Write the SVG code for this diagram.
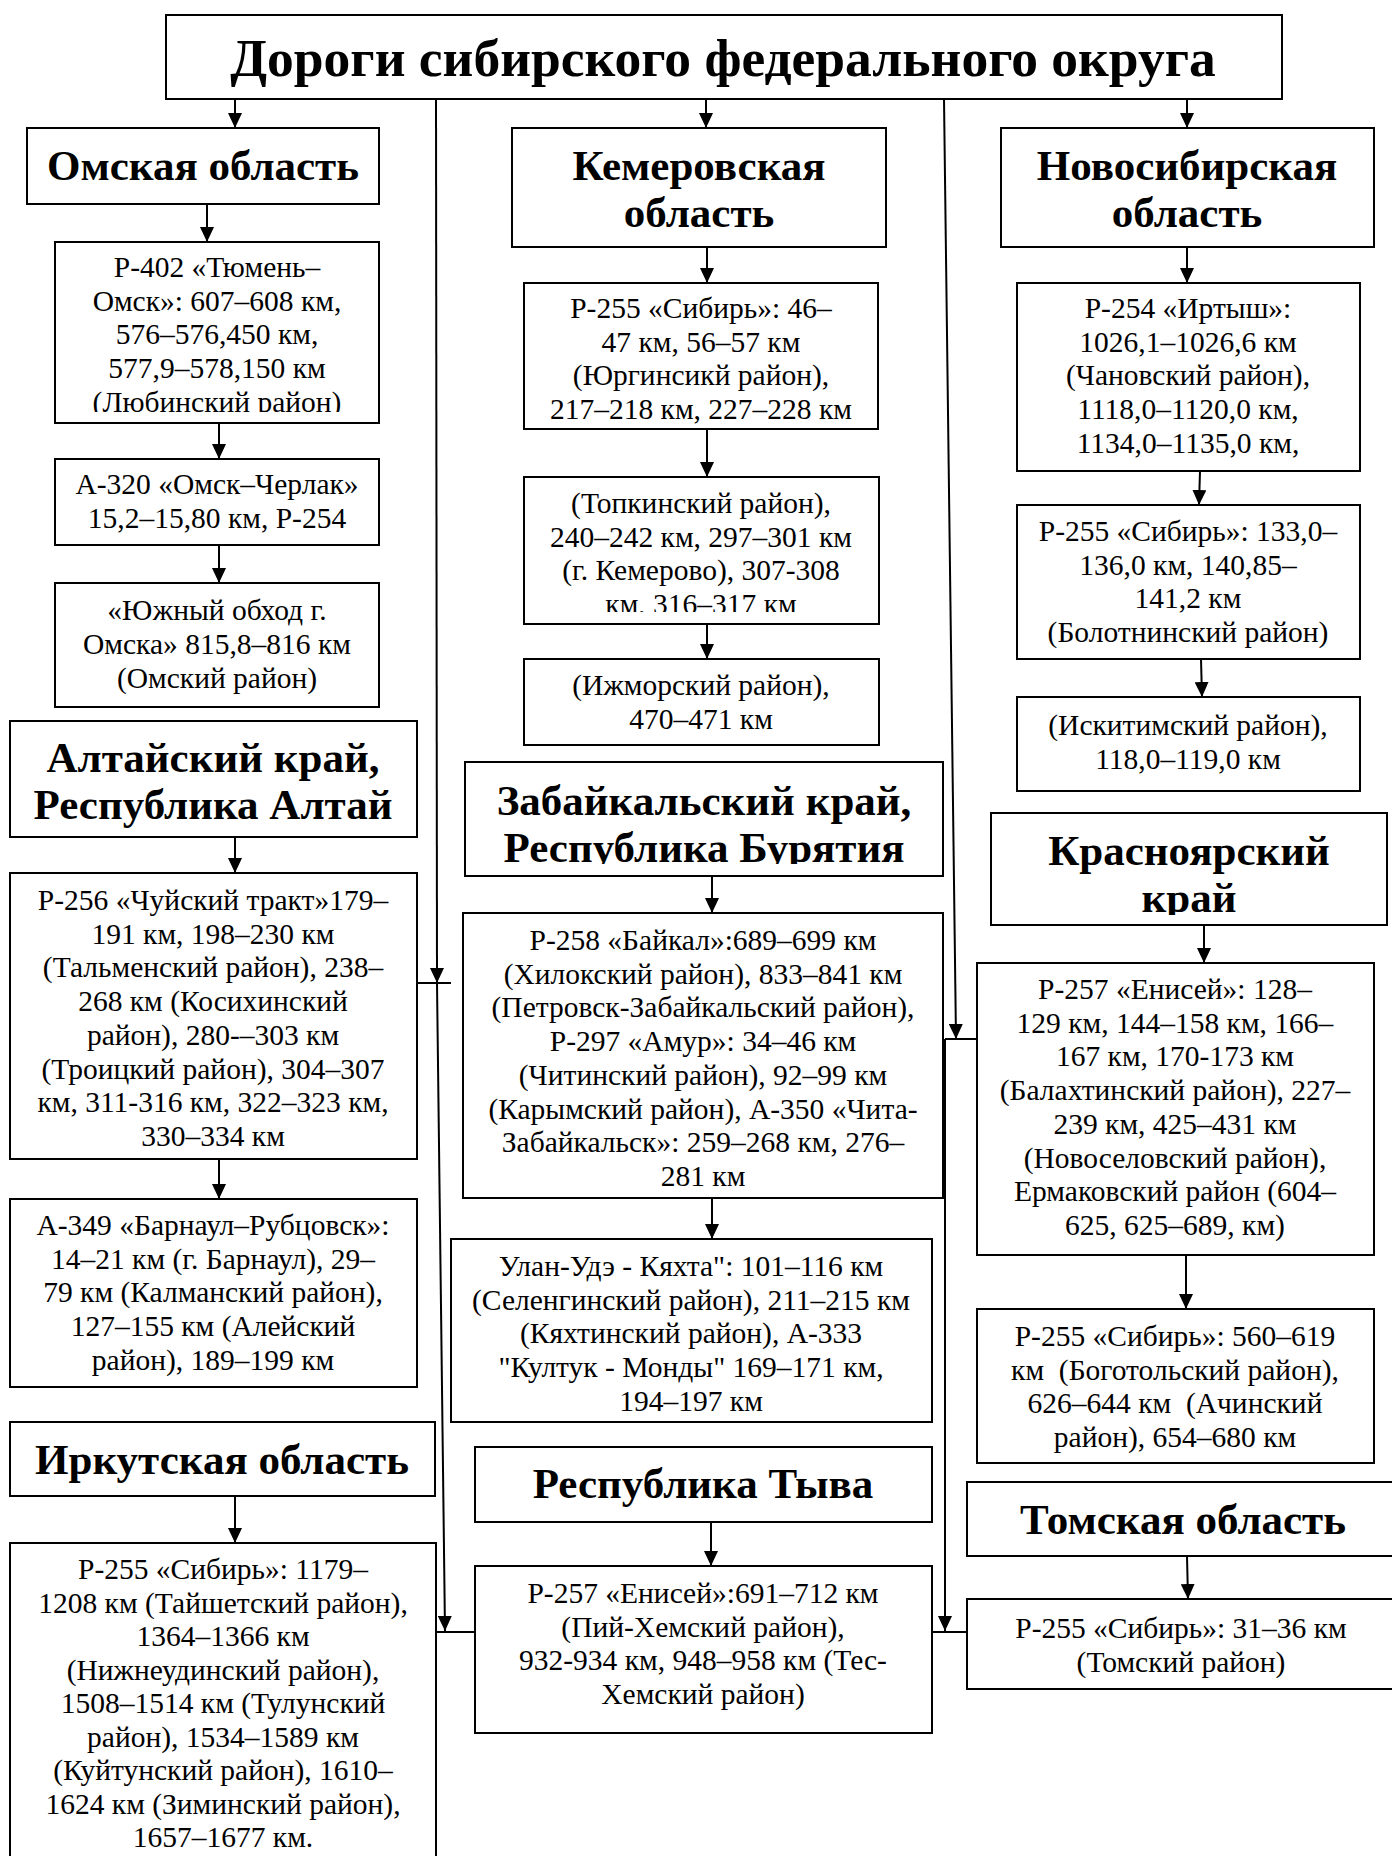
<svg xmlns="http://www.w3.org/2000/svg" width="1392" height="1856" viewBox="0 0 1392 1856">
<style>
  .bx { fill: #fff; stroke: #000; stroke-width: 2; }
  .t { font-family: "Liberation Serif", "Times New Roman", serif; font-size: 29.5px; text-anchor: middle; fill: #000; white-space: pre; }
  .h { font-family: "Liberation Serif", "Times New Roman", serif; font-size: 43px; font-weight: bold; text-anchor: middle; fill: #000; }
  .ttl { font-family: "Liberation Serif", "Times New Roman", serif; font-size: 53.5px; font-weight: bold; text-anchor: middle; fill: #000; }
  .c { stroke: #000; stroke-width: 2; fill: none; }
  .ca { stroke: #000; stroke-width: 2; fill: none; marker-end: url(#arr); }
</style>
<defs>
  <marker id="arr" markerUnits="userSpaceOnUse" viewBox="0 0 15 14" refX="15" refY="7" markerWidth="15" markerHeight="14" orient="auto">
    <path d="M0,0 L15,7 L0,14 z" fill="#000"/>
  </marker>
  <clipPath id="clipOmsk1"><rect x="55" y="242" width="324" height="170"/></clipPath>
  <clipPath id="clipKem2"><rect x="524" y="477" width="355" height="135"/></clipPath>
  <clipPath id="clipZabH"><rect x="465" y="762" width="478" height="102"/></clipPath>
  <clipPath id="clipKrasH"><rect x="991" y="813" width="396" height="102"/></clipPath>
  <clipPath id="clipIrk1"><rect x="10" y="1543" width="426" height="308"/></clipPath>
</defs>
<rect width="1392" height="1856" fill="#fff"/>

<g id="connectors">
  <line class="ca" x1="235" y1="99" x2="235" y2="128"/>
  <line class="ca" x1="706" y1="99" x2="706" y2="128"/>
  <line class="ca" x1="1187" y1="99" x2="1187" y2="128"/>
  <line class="ca" x1="207" y1="204" x2="207" y2="242"/>
  <line class="ca" x1="219" y1="423" x2="219" y2="459"/>
  <line class="ca" x1="219" y1="545" x2="219" y2="583"/>
  <line class="ca" x1="235" y1="837" x2="235" y2="873"/>
  <line class="ca" x1="219" y1="1159" x2="219" y2="1199"/>
  <line class="ca" x1="235" y1="1496" x2="235" y2="1543"/>
  <line class="ca" x1="707" y1="247" x2="707" y2="283"/>
  <line class="ca" x1="707" y1="429" x2="707" y2="477"/>
  <line class="ca" x1="707" y1="624" x2="707" y2="659"/>
  <line class="ca" x1="712" y1="876" x2="712" y2="913"/>
  <line class="ca" x1="712" y1="1198" x2="712" y2="1239"/>
  <line class="ca" x1="711" y1="1522" x2="711" y2="1566"/>
  <line class="ca" x1="1187" y1="247" x2="1187" y2="283"/>
  <line class="ca" x1="1200" y1="471" x2="1199" y2="505"/>
  <line class="ca" x1="1201" y1="659" x2="1202" y2="697"/>
  <line class="ca" x1="1204" y1="925" x2="1204" y2="963"/>
  <line class="ca" x1="1186" y1="1255" x2="1186" y2="1309"/>
  <line class="ca" x1="1187" y1="1556" x2="1188" y2="1599"/>
  <line class="ca" x1="436" y1="99" x2="437" y2="983"/>
  <line class="ca" x1="437" y1="983" x2="445" y2="1631"/>
  <line class="c" x1="417" y1="983" x2="451" y2="983"/>
  <line class="c" x1="435" y1="1632" x2="475" y2="1632"/>
  <line class="ca" x1="944" y1="99" x2="956" y2="1039"/>
  <line class="ca" x1="945" y1="1039" x2="945" y2="1631"/>
  <line class="c" x1="945" y1="1039" x2="977" y2="1039"/>
  <line class="c" x1="932" y1="1632" x2="967" y2="1632"/>
</g>

<g id="title">
  <rect class="bx" x="166" y="15" width="1116" height="84"/>
  <text class="ttl" x="723" y="76">Дороги сибирского федерального округа</text>
</g>

<g id="omsk-h">
  <rect class="bx" x="27" y="128" width="352" height="76"/>
  <text class="h" x="203" y="180">Омская область</text>
</g>
<g id="omsk-1">
  <rect class="bx" x="55" y="242" width="324" height="181"/>
  <g clip-path="url(#clipOmsk1)">
    <text class="t" x="217" y="277">Р-402 «Тюмень–</text>
    <text class="t" x="217" y="310.7">Омск»: 607–608 км,</text>
    <text class="t" x="217" y="344.4">576–576,450 км,</text>
    <text class="t" x="217" y="378.1">577,9–578,150 км</text>
    <text class="t" x="217" y="411.8">(Любинский район)</text>
  </g>
</g>
<g id="omsk-2">
  <rect class="bx" x="55" y="459" width="324" height="86"/>
  <text class="t" x="217" y="494">А-320 «Омск–Черлак»</text>
  <text class="t" x="217" y="528">15,2–15,80 км, Р-254</text>
</g>
<g id="omsk-3">
  <rect class="bx" x="55" y="583" width="324" height="124"/>
  <text class="t" x="217" y="620">«Южный обход г.</text>
  <text class="t" x="217" y="654">Омска» 815,8–816 км</text>
  <text class="t" x="217" y="688">(Омский район)</text>
</g>
<g id="altai-h">
  <rect class="bx" x="10" y="721" width="407" height="116"/>
  <text class="h" x="213" y="772">Алтайский край,</text>
  <text class="h" x="213" y="819">Республика Алтай</text>
</g>
<g id="altai-1">
  <rect class="bx" x="10" y="873" width="407" height="286"/>
  <text class="t" x="213" y="910">Р-256 «Чуйский тракт»179–</text>
  <text class="t" x="213" y="943.7">191 км, 198–230 км</text>
  <text class="t" x="213" y="977.4">(Тальменский район), 238–</text>
  <text class="t" x="213" y="1011.1">268 км (Косихинский</text>
  <text class="t" x="213" y="1044.8">район), 280-–303 км</text>
  <text class="t" x="213" y="1078.5">(Троицкий район), 304–307</text>
  <text class="t" x="213" y="1112.2">км, 311-316 км, 322–323 км,</text>
  <text class="t" x="213" y="1145.9">330–334 км</text>
</g>
<g id="altai-2">
  <rect class="bx" x="10" y="1199" width="407" height="188"/>
  <text class="t" x="213" y="1235">А-349 «Барнаул–Рубцовск»:</text>
  <text class="t" x="213" y="1268.7">14–21 км (г. Барнаул), 29–</text>
  <text class="t" x="213" y="1302.4">79 км (Калманский район),</text>
  <text class="t" x="213" y="1336.1">127–155 км (Алейский</text>
  <text class="t" x="213" y="1369.8">район), 189–199 км</text>
</g>
<g id="irk-h">
  <rect class="bx" x="10" y="1422" width="425" height="74"/>
  <text class="h" x="222" y="1474">Иркутская область</text>
</g>
<g id="irk-1">
  <rect class="bx" x="10" y="1543" width="426" height="320"/>
  <g clip-path="url(#clipIrk1)">
    <text class="t" x="223" y="1579">Р-255 «Сибирь»: 1179–</text>
    <text class="t" x="223" y="1612.5">1208 км (Тайшетский район),</text>
    <text class="t" x="223" y="1646">1364–1366 км</text>
    <text class="t" x="223" y="1679.5">(Нижнеудинский район),</text>
    <text class="t" x="223" y="1713">1508–1514 км (Тулунский</text>
    <text class="t" x="223" y="1746.5">район), 1534–1589 км</text>
    <text class="t" x="223" y="1780">(Куйтунский район), 1610–</text>
    <text class="t" x="223" y="1813.5">1624 км (Зиминский район),</text>
    <text class="t" x="223" y="1847">1657–1677 км.</text>
  </g>
</g>

<g id="kem-h">
  <rect class="bx" x="512" y="128" width="374" height="119"/>
  <text class="h" x="699" y="180">Кемеровская</text>
  <text class="h" x="699" y="227">область</text>
</g>
<g id="kem-1">
  <rect class="bx" x="524" y="283" width="354" height="146"/>
  <text class="t" x="701" y="318">Р-255 «Сибирь»: 46–</text>
  <text class="t" x="701" y="351.7">47 км, 56–57 км</text>
  <text class="t" x="701" y="385.4">(Юргинсикй район),</text>
  <text class="t" x="701" y="419.1">217–218 км, 227–228 км</text>
</g>
<g id="kem-2">
  <rect class="bx" x="524" y="477" width="355" height="147"/>
  <g clip-path="url(#clipKem2)">
    <text class="t" x="701" y="513">(Топкинский район),</text>
    <text class="t" x="701" y="546.7">240–242 км, 297–301 км</text>
    <text class="t" x="701" y="580.4">(г. Кемерово), 307-308</text>
    <text class="t" x="701" y="614.1">км, 316–317 км</text>
  </g>
</g>
<g id="kem-3">
  <rect class="bx" x="524" y="659" width="355" height="86"/>
  <text class="t" x="701" y="695">(Ижморский район),</text>
  <text class="t" x="701" y="729">470–471 км</text>
</g>
<g id="zab-h">
  <rect class="bx" x="465" y="762" width="478" height="114"/>
  <g clip-path="url(#clipZabH)">
    <text class="h" x="704" y="815">Забайкальский край,</text>
    <text class="h" x="704" y="862">Республика Бурятия</text>
  </g>
</g>
<g id="zab-1">
  <rect class="bx" x="463" y="913" width="480" height="285"/>
  <text class="t" x="703" y="950">Р-258 «Байкал»:689–699 км</text>
  <text class="t" x="703" y="983.7">(Хилокский район), 833–841 км</text>
  <text class="t" x="703" y="1017.4">(Петровск-Забайкальский район),</text>
  <text class="t" x="703" y="1051.1">Р-297 «Амур»: 34–46 км</text>
  <text class="t" x="703" y="1084.8">(Читинский район), 92–99 км</text>
  <text class="t" x="703" y="1118.5">(Карымский район), А-350 «Чита-</text>
  <text class="t" x="703" y="1152.2">Забайкальск»: 259–268 км, 276–</text>
  <text class="t" x="703" y="1185.9">281 км</text>
</g>
<g id="zab-2">
  <rect class="bx" x="451" y="1239" width="481" height="183"/>
  <text class="t" x="691" y="1276">Улан-Удэ - Кяхта": 101–116 км</text>
  <text class="t" x="691" y="1309.7">(Селенгинский район), 211–215 км</text>
  <text class="t" x="691" y="1343.4">(Кяхтинский район), А-333</text>
  <text class="t" x="691" y="1377.1">"Култук - Монды" 169–171 км,</text>
  <text class="t" x="691" y="1410.8">194–197 км</text>
</g>
<g id="tyva-h">
  <rect class="bx" x="475" y="1447" width="457" height="75"/>
  <text class="h" x="703" y="1498">Республика Тыва</text>
</g>
<g id="tyva-1">
  <rect class="bx" x="475" y="1566" width="457" height="167"/>
  <text class="t" x="703" y="1603">Р-257 «Енисей»:691–712 км</text>
  <text class="t" x="703" y="1636.7">(Пий-Хемский район),</text>
  <text class="t" x="703" y="1670.4">932-934 км, 948–958 км (Тес-</text>
  <text class="t" x="703" y="1704.1">Хемский район)</text>
</g>

<g id="nsk-h">
  <rect class="bx" x="1001" y="128" width="373" height="119"/>
  <text class="h" x="1187" y="180">Новосибирская</text>
  <text class="h" x="1187" y="227">область</text>
</g>
<g id="nsk-1">
  <rect class="bx" x="1017" y="283" width="343" height="188"/>
  <text class="t" x="1188" y="318">Р-254 «Иртыш»:</text>
  <text class="t" x="1188" y="351.7">1026,1–1026,6 км</text>
  <text class="t" x="1188" y="385.4">(Чановский район),</text>
  <text class="t" x="1188" y="419.1">1118,0–1120,0 км,</text>
  <text class="t" x="1188" y="452.8">1134,0–1135,0 км,</text>
</g>
<g id="nsk-2">
  <rect class="bx" x="1017" y="505" width="343" height="154"/>
  <text class="t" x="1188" y="541">Р-255 «Сибирь»: 133,0–</text>
  <text class="t" x="1188" y="574.7">136,0 км, 140,85–</text>
  <text class="t" x="1188" y="608.4">141,2 км</text>
  <text class="t" x="1188" y="642.1">(Болотнинский район)</text>
</g>
<g id="nsk-3">
  <rect class="bx" x="1017" y="697" width="343" height="94"/>
  <text class="t" x="1188" y="735">(Искитимский район),</text>
  <text class="t" x="1188" y="769">118,0–119,0 км</text>
</g>
<g id="kras-h">
  <rect class="bx" x="991" y="813" width="396" height="112"/>
  <g clip-path="url(#clipKrasH)">
    <text class="h" x="1189" y="865">Красноярский</text>
    <text class="h" x="1189" y="912">край</text>
  </g>
</g>
<g id="kras-1">
  <rect class="bx" x="977" y="963" width="397" height="292"/>
  <text class="t" x="1175" y="999">Р-257 «Енисей»: 128–</text>
  <text class="t" x="1175" y="1032.7">129 км, 144–158 км, 166–</text>
  <text class="t" x="1175" y="1066.4">167 км, 170-173 км</text>
  <text class="t" x="1175" y="1100.1">(Балахтинский район), 227–</text>
  <text class="t" x="1175" y="1133.8">239 км, 425–431 км</text>
  <text class="t" x="1175" y="1167.5">(Новоселовский район),</text>
  <text class="t" x="1175" y="1201.2">Ермаковский район (604–</text>
  <text class="t" x="1175" y="1234.9">625, 625–689, км)</text>
</g>
<g id="kras-2">
  <rect class="bx" x="977" y="1309" width="397" height="154"/>
  <text class="t" x="1175" y="1346">Р-255 «Сибирь»: 560–619</text>
  <text class="t" x="1175" y="1379.7">км  (Боготольский район),</text>
  <text class="t" x="1175" y="1413.4">626–644 км  (Ачинский</text>
  <text class="t" x="1175" y="1447.1">район), 654–680 км</text>
</g>
<g id="tomsk-h">
  <rect class="bx" x="967" y="1482" width="440" height="74"/>
  <text class="h" x="1183" y="1534">Томская область</text>
</g>
<g id="tomsk-1">
  <rect class="bx" x="967" y="1599" width="440" height="90"/>
  <text class="t" x="1181" y="1638">Р-255 «Сибирь»: 31–36 км</text>
  <text class="t" x="1181" y="1672">(Томский район)</text>
</g>
</svg>
